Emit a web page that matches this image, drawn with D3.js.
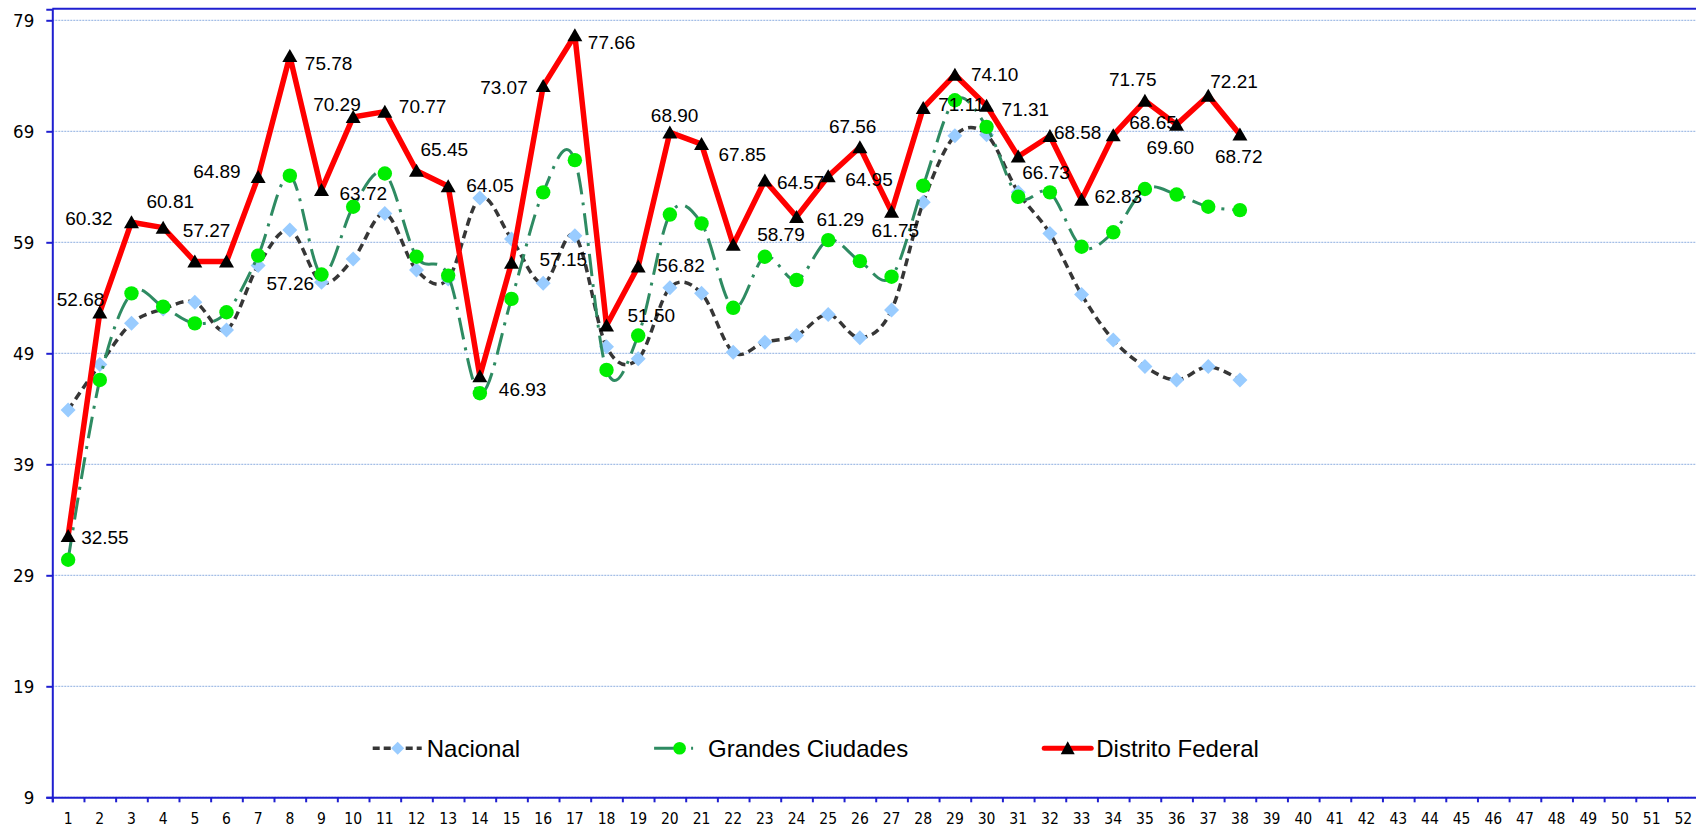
<!DOCTYPE html>
<html>
<head>
<meta charset="utf-8">
<script src="https://cdn.jsdelivr.net/npm/d3@7/dist/d3.min.js"></script>
<style>
  body { margin: 0; background: #fff; overflow: hidden; }
  .axis text { font-family: "DejaVu Sans Condensed", "DejaVu Sans", sans-serif; font-stretch: condensed; fill: #000; }
  .label { font-family: "Liberation Sans", Arial, sans-serif; font-size: 19px; fill: #000; }
  .legend text { font-family: "Liberation Sans", Arial, sans-serif; font-size: 24px; fill: #000; }
</style>
</head>
<body>
<script>
// categories (weeks 1..52)
var categories = [1,2,3,4,5,6,7,8,9,10,11,12,13,14,15,16,17,18,19,20,21,22,23,24,25,26,
                  27,28,29,30,31,32,33,34,35,36,37,38,39,40,41,42,43,44,45,46,47,48,49,50,51,52];

var yTicks = [9, 19, 29, 39, 49, 59, 69, 79];

var nacional = [43.9, 48.0, 51.7, 53.0, 53.6, 51.1, 56.9, 60.1, 55.4, 57.5, 61.6, 56.5, 55.7,
                63.0, 59.3, 55.3, 59.6, 49.6, 48.5, 54.9, 54.4, 49.1, 50.0, 50.6, 52.5, 50.4,
                52.9, 62.6, 68.6, 68.7, 63.5, 59.8, 54.3, 50.2, 47.8, 46.6, 47.8, 46.6];

var grandesCiudades = [30.4, 46.6, 54.4, 53.2, 51.7, 52.7, 57.8, 65.0, 56.1, 62.2, 65.2, 57.7, 56.0,
                       45.4, 53.9, 63.5, 66.4, 47.5, 50.6, 61.5, 60.7, 53.1, 57.7, 55.6, 59.2, 57.3,
                       55.9, 64.1, 71.8, 69.4, 63.1, 63.5, 58.6, 59.9, 63.8, 63.3, 62.2, 61.9];

var distritoFederal = [32.55, 52.68, 60.81, 60.32, 57.27, 57.26, 64.89, 75.78, 63.72, 70.29, 70.77, 65.45, 64.05,
                       46.93, 57.15, 73.07, 77.66, 51.50, 56.82, 68.90, 67.85, 58.79, 64.57, 61.29, 64.95, 67.56,
                       61.75, 71.11, 74.10, 71.31, 66.73, 68.58, 62.83, 68.65, 71.75, 69.60, 72.21, 68.72];

var seriesNames = ["Nacional", "Grandes Ciudades", "Distrito Federal"];

// where each Distrito Federal label sits relative to its point (px)
var labelDx = [13, -43, 15, -98, -12, 40, -65, 15, 18, -40, 14, 4, 18, 19, 28, -63, 13, 21, 19,
               -19, 17, 24, 12, 20, 17, -31, -20, 15, 16, 15, 4, 4, 13, 16, -36, -30, 2, -25];
var labelDy = [1, -13, -21, -9, -31, 22, -6, 7, 3, -13, -5, -21, -1, 13, -3, 1, 7, -10, -1,
               -17, 10, -10, 2, 2, 3, -21, 19, -4, 0, 4, 16, -4, -3, -13, -21, 23, -14, 22];

var width = 1696, height = 828;
var plotLeft = 52.3, plotRight = 52.3 + 52 * 31.67;
var plotTop = 9.2, plotBottom = 797.3;
var axisBlue = "#1f1fd0";

var svg = d3.select("body")
            .append("svg")
            .attr("width", width)
            .attr("height", height);

//Scales
var xScale = d3.scaleBand()
               .domain(categories)
               .range([plotLeft, plotRight]);

var xEdge = d3.scaleLinear()
              .domain([0, categories.length])
              .range([plotLeft, plotRight]);

var yScale = d3.scaleLinear()
               .domain([9, 80])
               .range([plotBottom, plotTop]);

function px(i) { return xScale(categories[i]) + xScale.bandwidth() / 2; }

//Gridlines
svg.append("g")
   .selectAll("line")
   .data(yTicks)
   .enter()
   .append("line")
   .attr("x1", plotLeft)
   .attr("x2", plotRight)
   .attr("y1", function(d) { return yScale(d); })
   .attr("y2", function(d) { return yScale(d); })
   .style("stroke", "#8eaee0")
   .style("stroke-width", 1)
   .style("stroke-dasharray", "2,1");

//Top border
svg.append("line")
   .attr("x1", plotLeft)
   .attr("x2", plotRight)
   .attr("y1", plotTop - 0.5)
   .attr("y2", plotTop - 0.5)
   .style("stroke", axisBlue)
   .style("stroke-width", 2);

//Y axis
var yAxis = d3.axisLeft(yScale)
              .tickValues(yTicks)
              .tickSize(6)
              .tickPadding(12);

var gy = svg.append("g")
   .attr("class", "axis")
   .attr("transform", "translate(" + plotLeft + ",0)")
   .call(yAxis);
gy.selectAll("text").style("font-size", "18.5px");

//X axis: boundary ticks
var xTickAxis = d3.axisBottom(xEdge)
                  .tickValues(d3.range(0, categories.length + 1))
                  .tickSize(5)
                  .tickFormat("");

svg.append("g")
   .attr("class", "axis")
   .attr("transform", "translate(0," + plotBottom + ")")
   .call(xTickAxis);

//X axis: labels at category centres
var xAxis = d3.axisBottom(xScale)
              .tickSize(0)
              .tickPadding(16);

var gx = svg.append("g")
   .attr("class", "axis")
   .attr("transform", "translate(0," + plotBottom + ")")
   .call(xAxis);
gx.select(".domain").remove();
gx.selectAll("text").style("font-size", "15.5px");

svg.selectAll(".axis path, .axis line")
   .style("stroke", axisBlue)
   .style("stroke-width", 2);

//Lines
var smoothLine = d3.line()
                   .x(function(d, i) { return px(i); })
                   .y(function(d) { return yScale(d); })
                   .curve(d3.curveCardinal.tension(0));

var straightLine = d3.line()
                     .x(function(d, i) { return px(i); })
                     .y(function(d) { return yScale(d); });

var diamond = "M0,-7.5L7.5,0L0,7.5L-7.5,0Z";
var triangle = "M0,-7L7.5,6L-7.5,6Z";

// Nacional
svg.append("path")
   .attr("d", smoothLine(nacional))
   .style("fill", "none")
   .style("stroke", "#363636")
   .style("stroke-width", 3.5)
   .style("stroke-dasharray", "8,5");

svg.append("g")
   .selectAll("path")
   .data(nacional)
   .enter()
   .append("path")
   .attr("d", diamond)
   .attr("transform", function(d, i) { return "translate(" + px(i) + "," + yScale(d) + ")"; })
   .style("fill", "#99ccff");

// Grandes Ciudades
svg.append("path")
   .attr("d", smoothLine(grandesCiudades))
   .style("fill", "none")
   .style("stroke", "#2e8b62")
   .style("stroke-width", 3)
   .style("stroke-dasharray", "22,8,3,8");

svg.append("g")
   .selectAll("circle")
   .data(grandesCiudades)
   .enter()
   .append("circle")
   .attr("cx", function(d, i) { return px(i); })
   .attr("cy", function(d) { return yScale(d); })
   .attr("r", 7.2)
   .style("fill", "#00ee00");

// Distrito Federal
svg.append("path")
   .attr("d", straightLine(distritoFederal))
   .style("fill", "none")
   .style("stroke", "#ff0000")
   .style("stroke-width", 5.5)
   .style("stroke-linejoin", "round");

svg.append("g")
   .selectAll("path")
   .data(distritoFederal)
   .enter()
   .append("path")
   .attr("d", triangle)
   .attr("transform", function(d, i) { return "translate(" + px(i) + "," + yScale(d) + ")"; })
   .style("fill", "#000");

//Data labels
svg.append("g")
   .selectAll("text")
   .data(distritoFederal)
   .enter()
   .append("text")
   .attr("class", "label")
   .attr("x", function(d, i) { return px(i) + labelDx[i]; })
   .attr("y", function(d, i) { return yScale(d) + labelDy[i]; })
   .attr("dy", "0.35em")
   .text(function(d) { return d3.format(".2f")(d); });

//Legend
var legend = svg.append("g").attr("class", "legend");
var lx = 372.7, ly = 748.3;

seriesNames.forEach(function(name, k) {
  var g = legend.append("g").attr("transform", "translate(" + lx + "," + ly + ")");
  if (k == 0) {
    g.append("line").attr("x1", 0).attr("x2", 49).attr("y1", 0).attr("y2", 0)
     .style("stroke", "#363636").style("stroke-width", 3.5).style("stroke-dasharray", "7,4");
    g.append("path").attr("d", "M0,-6.5L6.5,0L0,6.5L-6.5,0Z").attr("transform", "translate(25,0)")
     .style("fill", "#99ccff");
  } else if (k == 1) {
    g.append("line").attr("x1", 0).attr("x2", 49).attr("y1", 0).attr("y2", 0)
     .style("stroke", "#2e8b62").style("stroke-width", 3).style("stroke-dasharray", "20,17,2,30");
    g.append("circle").attr("cx", 25.5).attr("cy", 0).attr("r", 6.3).style("fill", "#00ee00");
  } else {
    g.append("line").attr("x1", 2).attr("x2", 49).attr("y1", 0).attr("y2", 0)
     .style("stroke", "#ff0000").style("stroke-width", 5).style("stroke-linecap", "round");
    g.append("path").attr("d", "M0,-7L7,6L-7,6Z").attr("transform", "translate(25.5,0)")
     .style("fill", "#000");
  }
  var t = g.append("text")
           .attr("x", 54)
           .attr("y", 0)
           .attr("dy", "0.35em")
           .text(name);
  lx += 54 + t.node().getComputedTextLength() + 134;
});
</script>
</body>
</html>
